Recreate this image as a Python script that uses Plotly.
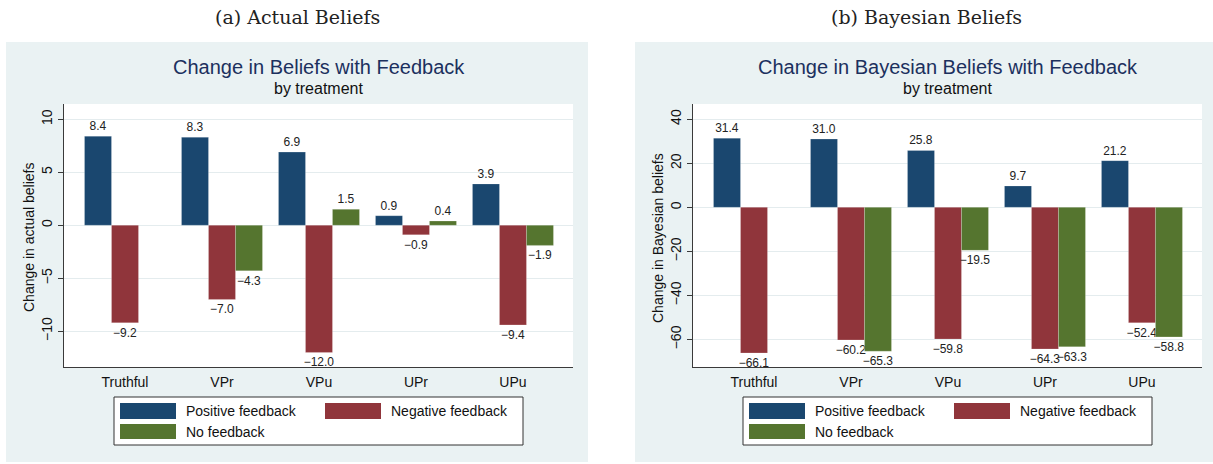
"""
Side-by-side Stata-style bar charts: change in actual and Bayesian
beliefs after feedback, by treatment.
"""

import plotly.graph_objects as go

W, H = 1213, 464

treatments = ["Truthful", "VPr", "VPu", "UPr", "UPu"]
series_names = ["Positive feedback", "Negative feedback", "No feedback"]
series_colors = ["#1a476f", "#90353b", "#55752f"]

# (a) actual beliefs
actual_positive = [8.4, 8.3, 6.9, 0.9, 3.9]
actual_negative = [-9.2, -7.0, -12.0, -0.9, -9.4]
actual_none = [None, -4.3, 1.5, 0.4, -1.9]

# (b) Bayesian beliefs
bayes_positive = [31.4, 31.0, 25.8, 9.7, 21.2]
bayes_negative = [-66.1, -60.2, -59.8, -64.3, -52.4]
bayes_none = [None, -65.3, -19.5, -63.3, -58.8]

SANS = "Liberation Sans, Arial, sans-serif"
SERIF = "DejaVu Serif, Georgia, serif"
BG_GRAY = "#eaf2f3"
TITLE_COLOR = "#1c305e"


def px_x(x):
    """Pixel column -> paper x."""
    return x / W


def px_y(y):
    """Pixel row (from top) -> paper y."""
    return 1 - y / H


def fmt(v):
    if v is None:
        return ""
    return f"{v:.1f}".replace("-", "\u2212")


def add_panel(fig, n, dx, series, caption, title, ytitle, yrange, dtick):
    """Add one panel (bars, frame, titles and legend) shifted by dx pixels."""
    xa = "x" if n == 1 else f"x{n}"
    ya = "y" if n == 1 else f"y{n}"

    for name, color, values in zip(series_names, series_colors, series):
        fig.add_trace(go.Bar(
            x=treatments, y=values, name=name,
            marker=dict(color=color, line=dict(color="rgba(255,255,255,0.35)", width=0.6)),
            text=[fmt(v) for v in values], textposition="outside",
            textfont=dict(size=12, color="#222", family=SANS),
            constraintext="none", cliponaxis=False,
            xaxis=xa, yaxis=ya, showlegend=False, hoverinfo="x+y+name",
        ))

    x_left, x_right = 64 + dx, 573 + dx
    fig.layout[f"xaxis{'' if n == 1 else n}"] = dict(
        domain=[px_x(x_left), px_x(x_right)], anchor=ya,
        range=[-0.629, 4.619], showgrid=False, zeroline=False,
        showline=True, linecolor="#3a3a3a", linewidth=1,
        ticks="", tickfont=dict(size=14, color="#111", family=SANS),
        ticklabelstandoff=2,
    )
    fig.layout[f"yaxis{'' if n == 1 else n}"] = dict(
        domain=[px_y(367.3), px_y(104)], anchor=xa,
        range=yrange, dtick=dtick, showgrid=True, gridcolor="#e4ecee", gridwidth=1.3,
        zeroline=False, showline=True, linecolor="#3a3a3a", linewidth=1,
        ticks="outside", ticklen=5, tickcolor="#3a3a3a", tickangle=-90,
        tickfont=dict(size=14, color="#111", family=SANS), ticklabelstandoff=0,
    )

    # grey graph region and white plot region
    fig.add_shape(type="rect", xref="paper", yref="paper", layer="below",
                  x0=px_x(6 + dx), x1=px_x(588 + dx), y0=px_y(462), y1=px_y(42),
                  fillcolor=BG_GRAY, line=dict(width=0))
    fig.add_shape(type="rect", xref=f"{xa} domain", yref=f"{ya} domain", layer="below",
                  x0=0, x1=1, y0=0, y1=1, fillcolor="white", line=dict(width=0))

    # y axis title, placed like Stata's
    fig.add_annotation(text=ytitle, xref="paper", yref="paper",
                       x=px_x(29 + dx), y=px_y(238), showarrow=False, textangle=-90,
                       xanchor="center", yanchor="middle",
                       font=dict(size=14, color="#111", family=SANS))

    # captions and titles
    fig.add_annotation(text=caption, xref="paper", yref="paper",
                       x=px_x(297 + dx), y=px_y(17), showarrow=False,
                       xanchor="center", yanchor="middle",
                       font=dict(size=19, color="#222", family=SERIF))
    centre = (x_left + x_right) / 2
    fig.add_annotation(text=title, xref="paper", yref="paper",
                       x=px_x(centre), y=px_y(67), showarrow=False,
                       xanchor="center", yanchor="middle",
                       font=dict(size=20, color=TITLE_COLOR, family=SANS))
    fig.add_annotation(text="by treatment", xref="paper", yref="paper",
                       x=px_x(centre), y=px_y(88), showarrow=False,
                       xanchor="center", yanchor="middle",
                       font=dict(size=16, color="#111", family=SANS))

    # Stata-style legend box
    fig.add_shape(type="rect", xref="paper", yref="paper", layer="below",
                  x0=px_x(114 + dx), x1=px_x(523 + dx), y0=px_y(445), y1=px_y(397),
                  fillcolor="white", line=dict(color="#333", width=1))
    slots = [(120, 403, 419), (325, 403, 419), (120, 424, 439)]
    for (sx, y0, y1), name, color in zip(slots, series_names, series_colors):
        fig.add_shape(type="rect", xref="paper", yref="paper", layer="below",
                      x0=px_x(sx + dx), x1=px_x(sx + 56 + dx), y0=px_y(y1), y1=px_y(y0),
                      fillcolor=color, line=dict(width=0))
        fig.add_annotation(text=name, xref="paper", yref="paper",
                           x=px_x(sx + 64 + dx), y=px_y((y0 + y1) / 2), showarrow=False,
                           xanchor="left", yanchor="middle",
                           font=dict(size=14, color="#111", family=SANS))


fig = go.Figure()

add_panel(fig, 1, 0, [actual_positive, actual_negative, actual_none],
          "(a) Actual Beliefs", "Change in Beliefs with Feedback",
          "Change in actual beliefs", [-13.4, 11.44], 5)
add_panel(fig, 2, 629, [bayes_positive, bayes_negative, bayes_none],
          "(b) Bayesian Beliefs", "Change in Bayesian Beliefs with Feedback",
          "Change in Bayesian beliefs", [-72.6, 46.9], 20)

fig.update_layout(
    width=W, height=H,
    margin=dict(l=0, r=0, t=0, b=0),
    paper_bgcolor="white", plot_bgcolor="white",
    barmode="group", bargap=0.165, bargroupgap=0,
    showlegend=False,
    font=dict(family=SANS),
)

fig.write_html("out.html", config={"displayModeBar": False},
               post_script="document.body.style.margin='0px';")
